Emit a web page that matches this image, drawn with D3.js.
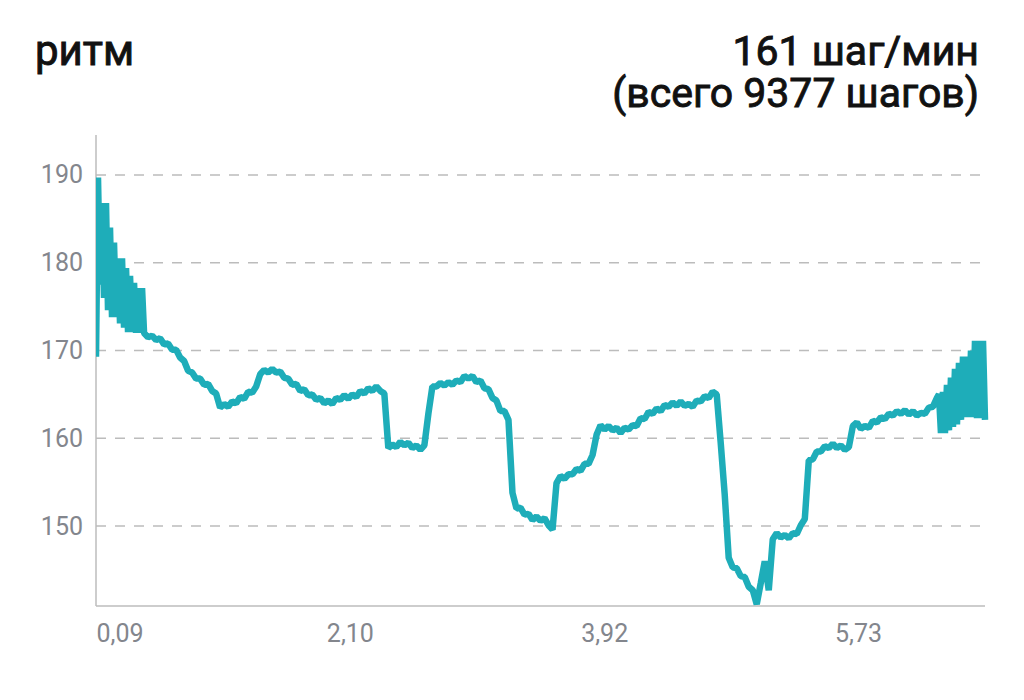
<!DOCTYPE html>
<html>
<head>
<meta charset="utf-8">
<script src="https://cdn.jsdelivr.net/npm/d3@7"></script>
<style>
  body { margin: 0; background: #fff; }
  svg { display: block; font-family: Roboto, "Noto Sans", sans-serif; }
</style>
</head>
<body>
<svg id="chart" width="1024" height="700"></svg>
<script>
// cadence (steps/min). the start and the end are sampled twice as often
var startBurst = [
  169.3, 189.7, 177.5, 186.8, 176.0, 186.8, 174.6, 184.0, 173.8, 182.3,
  173.8, 180.5, 173.1, 180.5, 172.6, 179.4, 172.1, 178.5, 172.1, 177.7,
  172.0, 177.1, 172.0, 177.1
];
var cadence = [
  172.0, 171.5, 171.7, 171.2, 171.4, 170.7, 170.8, 170.1,
  170.1, 169.2, 168.8, 167.7, 167.5, 166.8, 166.8, 166.1, 166.2, 165.4,
  165.1, 163.5, 163.9, 163.6, 164.2, 164.0, 164.7, 164.5, 165.3, 165.2,
  165.9, 167.3, 167.8, 167.5, 167.9, 167.5, 167.6, 166.9, 166.8, 166.1,
  166.2, 165.4, 165.6, 164.9, 165.0, 164.4, 164.6, 164.0, 164.3, 163.9,
  164.6, 164.4, 164.9, 164.5, 165.0, 164.7, 165.4, 165.1, 165.7, 165.4,
  165.9, 165.4, 165.1, 158.9, 159.3, 159.0, 159.6, 159.2, 159.5, 158.9,
  159.2, 158.7, 159.2, 162.8, 165.9, 165.9, 166.3, 166.0, 166.4, 166.1,
  166.6, 166.4, 167.1, 166.8, 167.1, 166.4, 166.6, 165.7, 165.6, 164.6,
  164.3, 163.1, 163.1, 162.1, 153.8, 152.0, 152.1, 151.3, 151.4, 150.7,
  151.1, 150.6, 150.9, 150.1, 149.6, 154.9, 155.7, 155.4, 155.9, 155.9,
  156.5, 156.3, 157.1, 157.1, 158.1, 160.4, 161.5, 161.0, 161.4, 160.9,
  161.2, 160.6, 161.2, 161.0, 161.5, 161.4, 162.3, 162.2, 163.0, 162.8,
  163.4, 163.1, 163.8, 163.6, 164.1, 163.7, 164.2, 163.7, 163.9, 163.6,
  164.3, 164.2, 164.8, 164.6, 165.3, 165.0, 159.5, 153.6, 146.4, 145.3,
  145.2, 144.3, 144.2, 143.1, 142.7, 141.1, 143.5, 146.0, 142.7, 148.5,
  149.2, 148.7, 149.0, 148.6, 149.2, 149.1, 150.1, 150.8, 157.5, 157.6,
  158.5, 158.5, 159.1, 158.9, 159.4, 158.9, 159.2, 158.7, 159.0, 161.4,
  161.8, 161.1, 161.4, 161.2, 162.0, 161.8, 162.4, 162.2, 162.8, 162.6,
  163.1, 162.8, 163.2, 162.7, 163.1, 162.6, 162.9, 162.8, 163.5, 163.6,
  164.6
];
var endBurst = [
  165.0, 160.6, 165.3, 160.6, 166.1, 160.9, 166.9, 161.3, 167.9, 161.6,
  168.6, 162.1, 169.3, 162.4, 169.3, 162.4, 170.0, 162.4, 171.1, 162.3,
  171.1, 162.3, 171.1, 162.1
];
var mainStart = 12;      // sample where the regular series begins
var burstStep = 0.5;     // burst samples per regular sample
var runLength = 222;     // last sample
var yTicks = [150, 160, 170, 180, 190];
var yDomain = [140.9, 194.55];
// distance labels (km) and the sample they sit at
var xTickLabels = ['0,09', '2,10', '3,92', '5,73'];
var xTickAt = [0, 63.4, 126.9, 190.3];
var title = 'ритм';
var summary = ['161 шаг/мин', '(всего 9377 шагов)'];

var points = []
startBurst.forEach((v, i) => points.push([i * burstStep, v]))
cadence.forEach((v, i) => points.push([mainStart + i, v]))
var endStart = mainStart + cadence.length - 1
endBurst.forEach((v, i) => points.push([endStart + (i + 1) * burstStep, v]))

var svg = d3.select('#chart');
var margin = { left: 96, right: 39, top: 135, bottom: 94 };
var width = +svg.attr('width');
var height = +svg.attr('height');
var x0 = margin.left, x1 = width - margin.right;
var y0 = height - margin.bottom, y1 = margin.top;

var xscale = d3.scaleLinear().domain([0, runLength]).range([x0, x1]);
var yscale = d3.scaleLinear().domain(yDomain).range([y0, y1]);

// titles
svg.append('text').text(title)
  .attr('x', 35).attr('y', 65)
  .attr('font-size', 42).attr('font-weight', 400)
  .attr('fill', '#111').attr('stroke', '#111').attr('stroke-width', 0.9);
svg.selectAll('.summary').data(summary).enter()
  .append('text').attr('class', 'summary')
  .text(d => d)
  .attr('x', 979).attr('y', (d, i) => 65 + i * 42)
  .attr('text-anchor', 'end')
  .attr('font-size', 41).attr('font-weight', 400)
  .attr('fill', '#111').attr('stroke', '#111').attr('stroke-width', 0.9);

// grid
svg.append('g').selectAll('line').data(yTicks).enter()
  .append('line')
  .attr('x1', x0).attr('x2', x1)
  .attr('y1', d => yscale(d)).attr('y2', d => yscale(d))
  .attr('stroke', '#bcbcbc').attr('stroke-width', 1.5)
  .attr('stroke-dasharray', '10,9');

// y axis
var yAxis = svg.append('g')
  .attr('transform', 'translate(' + x0 + ',0)')
  .call(d3.axisLeft(yscale).tickValues(yTicks).tickSize(0).tickPadding(13));
yAxis.select('.domain').remove();
yAxis.selectAll('text')
  .attr('font-size', 25).attr('fill', '#83868d').attr('font-family', 'Roboto');

// x axis
var xAxis = svg.append('g')
  .attr('transform', 'translate(0,' + y0 + ')')
  .call(d3.axisBottom(xscale).tickValues(xTickAt)
    .tickFormat((d, i) => xTickLabels[i]).tickSize(0).tickPadding(18));
xAxis.select('.domain').remove();
xAxis.selectAll('text')
  .attr('font-size', 25).attr('fill', '#83868d').attr('font-family', 'Roboto')
  .attr('text-anchor', (d, i) => i === 0 ? 'start' : 'middle');

// axis lines
svg.append('line').attr('x1', x0).attr('x2', x0).attr('y1', y1).attr('y2', y0)
  .attr('stroke', '#bdbdbd').attr('stroke-width', 1.5);
svg.append('line').attr('x1', x0).attr('x2', x1).attr('y1', y0).attr('y2', y0)
  .attr('stroke', '#bdbdbd').attr('stroke-width', 1.5);

// line
svg.append('clipPath').attr('id', 'plot-clip')
  .append('rect').attr('x', x0).attr('y', y1 - 10)
  .attr('width', x1 - x0 + 4).attr('height', y0 - y1 + 10);

var line = d3.line()
  .x(d => xscale(d[0]))
  .y(d => yscale(d[1]));

svg.append('path')
  .datum(points)
  .attr('clip-path', 'url(#plot-clip)')
  .attr('d', line)
  .attr('fill', 'none')
  .attr('stroke', '#1eadb9')
  .attr('stroke-width', 6.5)
  .attr('stroke-linejoin', 'bevel');
</script>
</body>
</html>
